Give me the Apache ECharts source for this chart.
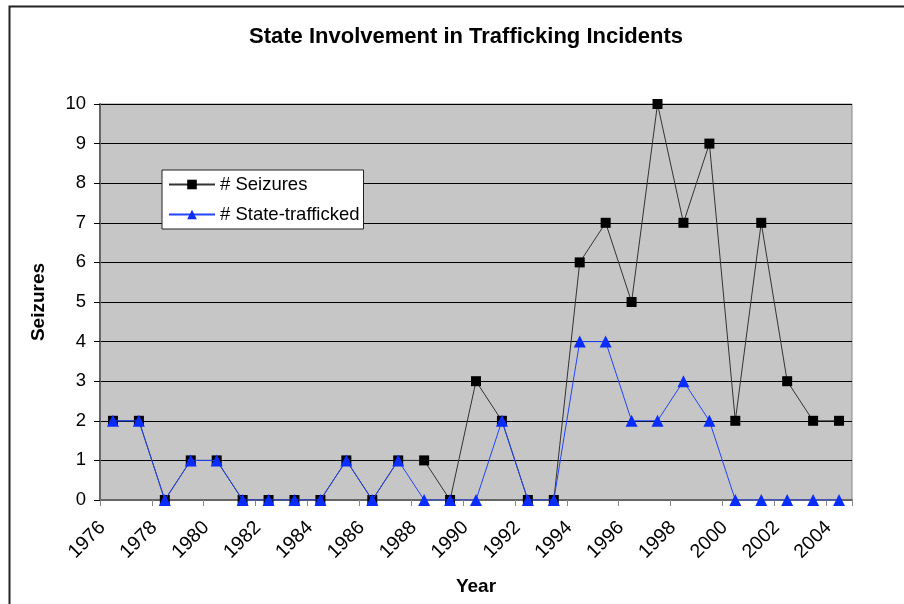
<!DOCTYPE html>
<html>
<head>
<meta charset="utf-8">
<script src="https://cdn.jsdelivr.net/npm/echarts@6/dist/echarts.min.js"></script>
<style>
  html, body { margin: 0; padding: 0; background: #fff; }
</style>
</head>
<body>
<div id="chart" style="width:904px;height:604px;"></div>
<script>
// years on the x axis
var years = [
  "1976", "1977", "1978", "1979", "1980", "1981", "1982", "1983", "1984", "1985",
  "1986", "1987", "1988", "1989", "1990", "1991", "1992", "1993", "1994", "1995",
  "1996", "1997", "1998", "1999", "2000", "2001", "2002", "2003", "2004"
];
var seizures = [2, 2, 0, 1, 1, 0, 0, 0, 0, 1, 0, 1, 1, 0, 3, 2, 0, 0, 6, 7, 5, 10, 7, 9, 2, 7, 3, 2, 2];
var stateTrafficked = [2, 2, 0, 1, 1, 0, 0, 0, 0, 1, 0, 1, 0, 0, 0, 2, 0, 0, 4, 4, 2, 2, 3, 2, 0, 0, 0, 0, 0];

var chart = echarts.init(document.getElementById("chart"));

var labelFont = { fontFamily: "Liberation Sans", fontSize: 18.5, color: "#000" };
var boldFont = { fontFamily: "Liberation Sans", fontSize: 19, fontWeight: "bold", color: "#000" };

chart.setOption({
  animation: false,
  backgroundColor: "#fff",
  // outer chart frame
  graphic: [
    {
      type: "rect",
      left: 7,
      top: 4,
      shape: { width: 1000, height: 700 },
      style: { fill: "none", stroke: "#222", lineWidth: 2 },
      z: 100
    }
  ],
  title: {
    text: "State Involvement in Trafficking Incidents",
    left: 244,
    top: 21,
    textStyle: { fontFamily: "Liberation Sans", fontSize: 22, fontWeight: "bold", color: "#000" }
  },
  legend: {
    orient: "vertical",
    left: 162,
    top: 170,
    backgroundColor: "#fff",
    borderColor: "#222",
    borderWidth: 1,
    padding: [5, 4, 5, 6],
    itemGap: 11,
    itemWidth: 46,
    itemHeight: 12,
    textStyle: labelFont,
    data: ["# Seizures", "# State-trafficked"]
  },
  grid: {
    left: 100,
    right: 52,
    top: 104,
    bottom: 104,
    show: true,
    backgroundColor: "#c6c6c6",
    borderColor: "#888",
    borderWidth: 1,
    containLabel: false
  },
  xAxis: {
    type: "category",
    data: years,
    boundaryGap: true,
    name: "Year",
    nameLocation: "middle",
    nameGap: 77,
    nameTextStyle: boldFont,
    axisLine: { lineStyle: { color: "#666", width: 2 } },
    axisTick: { show: true, length: 6, inside: false, lineStyle: { color: "#888" } },
    // padding on the rotated label pushes it down-left like the original
    axisLabel: Object.assign({ interval: 1, rotate: 45, margin: 14, padding: [0, 15, 0, 0] }, labelFont, { fontSize: 19.5 }),
    splitLine: { show: false }
  },
  yAxis: {
    type: "value",
    min: 0,
    max: 10,
    interval: 1,
    name: "Seizures",
    nameLocation: "middle",
    nameGap: 52,
    nameTextStyle: boldFont,
    axisLine: { show: true, lineStyle: { color: "#666", width: 2 } },
    axisTick: { show: true, length: 6, lineStyle: { color: "#000" } },
    axisLabel: Object.assign({ margin: 14 }, labelFont),
    splitLine: { show: true, lineStyle: { color: "#000", width: 1 } }
  },
  series: [
    {
      name: "# Seizures",
      type: "line",
      data: seizures,
      symbol: "rect",
      symbolSize: 10,
      itemStyle: { color: "#000" },
      lineStyle: { color: "#333", width: 1 },
      z: 2
    },
    {
      name: "# State-trafficked",
      type: "line",
      data: stateTrafficked,
      symbol: "triangle",
      symbolSize: 12,
      itemStyle: { color: "#0a2dff" },
      lineStyle: { color: "#2244ff", width: 1 },
      z: 3
    }
  ]
});
</script>
</body>
</html>
